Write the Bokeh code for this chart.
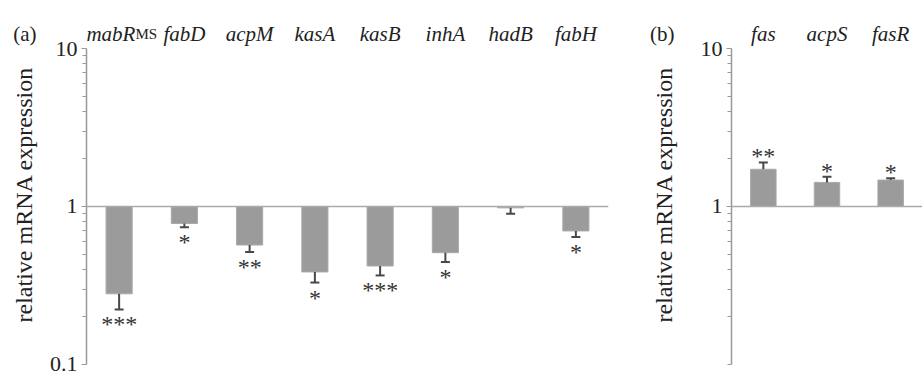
from bokeh.plotting import figure
from bokeh.layouts import row
from bokeh.models import (FixedTicker, CustomJSTickFormatter, Span,
                          ColumnDataSource, LogAxis)
from bokeh.embed import file_html
from bokeh.resources import INLINE
from bokeh.core.properties import value

# ---- data ----
genes_a = ["mabR", "fabD", "acpM", "kasA", "kasB", "inhA", "hadB", "fabH"]
expr_a = [0.28, 0.78, 0.57, 0.385, 0.42, 0.51, 0.98, 0.70]
err_a = [0.223, 0.74, 0.515, 0.33, 0.366, 0.445, 0.90, 0.64]
stars_a = ["***", "*", "**", "*", "***", "*", "", "*"]

genes_b = ["fas", "acpS", "fasR"]
expr_b = [1.72, 1.42, 1.47]
err_b = [1.90, 1.54, 1.51]
stars_b = ["**", "*", "*"]

major_a = [0.1, 1, 10]
major_b = [1, 10]
minor_ticks = [0.2, 0.3, 0.4, 0.5, 0.6, 0.7, 0.8, 0.9, 2, 3, 4, 5, 6, 7, 8, 9]
minor_b = [0.1] + minor_ticks

FONT = "Liberation Serif"
BAR = "#9b9b9b"
AX = "#999999"
ERR = "#484848"
TXT = "#222222"
Y_LO, Y_HI = 0.0839, 16.9      # frame extent (axis itself drawn 0.1 .. 10)
LABEL_Y = 12.44                 # baseline of the gene names above the axis


def make_panel(genes, expr, err, stars, majors, minors, width, mbl, mbr, letter,
               letter_standoff, title_standoff, first_label=None):
    n = len(genes)
    p = figure(width=width, height=376, x_range=(0, n), y_range=(Y_LO, Y_HI),
               y_axis_type="log", x_axis_location=None,
               output_backend="svg", toolbar_location=None,
               min_border_left=mbl, min_border_right=mbr,
               min_border_top=12, min_border_bottom=0)
    p.outline_line_color = None
    p.xgrid.visible = False
    p.ygrid.visible = False
    p.background_fill_color = "white"

    ax = p.yaxis[0]
    ax.bounds = (0.1, 10)
    ax.ticker = FixedTicker(ticks=majors, minor_ticks=minors)
    ax.formatter = CustomJSTickFormatter(code="return tick.toString();")
    ax.axis_line_color = AX
    ax.axis_line_width = 1.5
    ax.major_tick_line_color = AX
    ax.minor_tick_line_color = AX
    ax.major_tick_out = 5
    ax.major_tick_in = 0
    ax.minor_tick_out = 4
    ax.minor_tick_in = 0
    ax.major_label_text_font = FONT
    ax.major_label_text_font_size = "22px"
    ax.major_label_text_color = TXT
    ax.major_label_standoff = 4

    # outer left axis: carries the panel letter and the axis title
    ax2 = LogAxis(ticker=FixedTicker(ticks=[LABEL_Y], minor_ticks=[]),
                  formatter=CustomJSTickFormatter(code="return '(%s)';" % letter),
                  axis_line_color=None, major_tick_line_color=None,
                  minor_tick_line_color=None, major_tick_out=0, major_tick_in=0,
                  major_label_standoff=letter_standoff,
                  major_label_text_font=FONT, major_label_text_font_size="21px",
                  major_label_text_color=TXT,
                  axis_label="relative mRNA expression",
                  axis_label_text_font=FONT, axis_label_text_font_size="24px",
                  axis_label_text_font_style="normal", axis_label_text_color=TXT,
                  axis_label_standoff=title_standoff)
    p.add_layout(ax2, "left")

    xs = [i + 0.5 for i in range(n)]
    src = ColumnDataSource(dict(x=xs, top=expr, err=err, stars=stars))
    p.vbar(x="x", width=0.4, bottom=1, top="top", source=src,
           fill_color=BAR, line_color="#a9a9a9", line_width=1)
    p.segment(x0="x", y0="top", x1="x", y1="err", source=src,
              line_color=ERR, line_width=2)
    p.scatter(x="x", y="err", source=src, marker="dash", size=9,
              line_color=ERR, line_width=2)

    p.add_layout(Span(location=1, dimension="width", line_color="#aaaaaa", line_width=1.5))

    neg_idx = [i for i, v in enumerate(expr) if v < 1]
    pos_idx = [i for i, v in enumerate(expr) if v >= 1]
    if neg_idx:
        p.text(x=[xs[i] for i in neg_idx], y=[err[i] for i in neg_idx],
               text=[stars[i] for i in neg_idx], text_align="center",
               text_baseline="middle", y_offset=15,
               text_font=value(FONT), text_font_size="24px", text_color="#333333")
    if pos_idx:
        p.text(x=[xs[i] for i in pos_idx], y=[err[i] for i in pos_idx],
               text=[stars[i] for i in pos_idx], text_align="center",
               text_baseline="middle", y_offset=-6,
               text_font=value(FONT), text_font_size="24px", text_color="#333333")

    # category names on top (glyphs inside the frame)
    name_x = list(xs)
    name_align = ["center"] * n
    if first_label is not None:
        name_x[0] = xs[0] + 0.25
        name_align[0] = "right"
    p.text(x=name_x, y=[LABEL_Y] * n, text=genes, text_align=name_align,
           text_baseline="alphabetic", text_font=value(FONT),
           text_font_size="21px", text_font_style="italic", text_color=TXT)
    if first_label is not None:
        p.text(x=[xs[0] + 0.25], y=[LABEL_Y], text=[first_label], text_align="left",
               text_baseline="alphabetic", text_font=value(FONT),
               text_font_size="15px", text_color=TXT)
    return p


pa = make_panel(genes_a, expr_a, err_a, stars_a, major_a, minor_ticks,
                width=648, mbl=86, mbr=40, letter="a", letter_standoff=10,
                title_standoff=-27, first_label="MS")
pb = make_panel(genes_b, expr_b, err_b, stars_b, major_b, minor_b,
                width=274, mbl=76, mbr=0, letter="b", letter_standoff=23,
                title_standoff=-30)

layout = row(pa, pb)
open("out.html", "w").write(file_html(layout, INLINE))
